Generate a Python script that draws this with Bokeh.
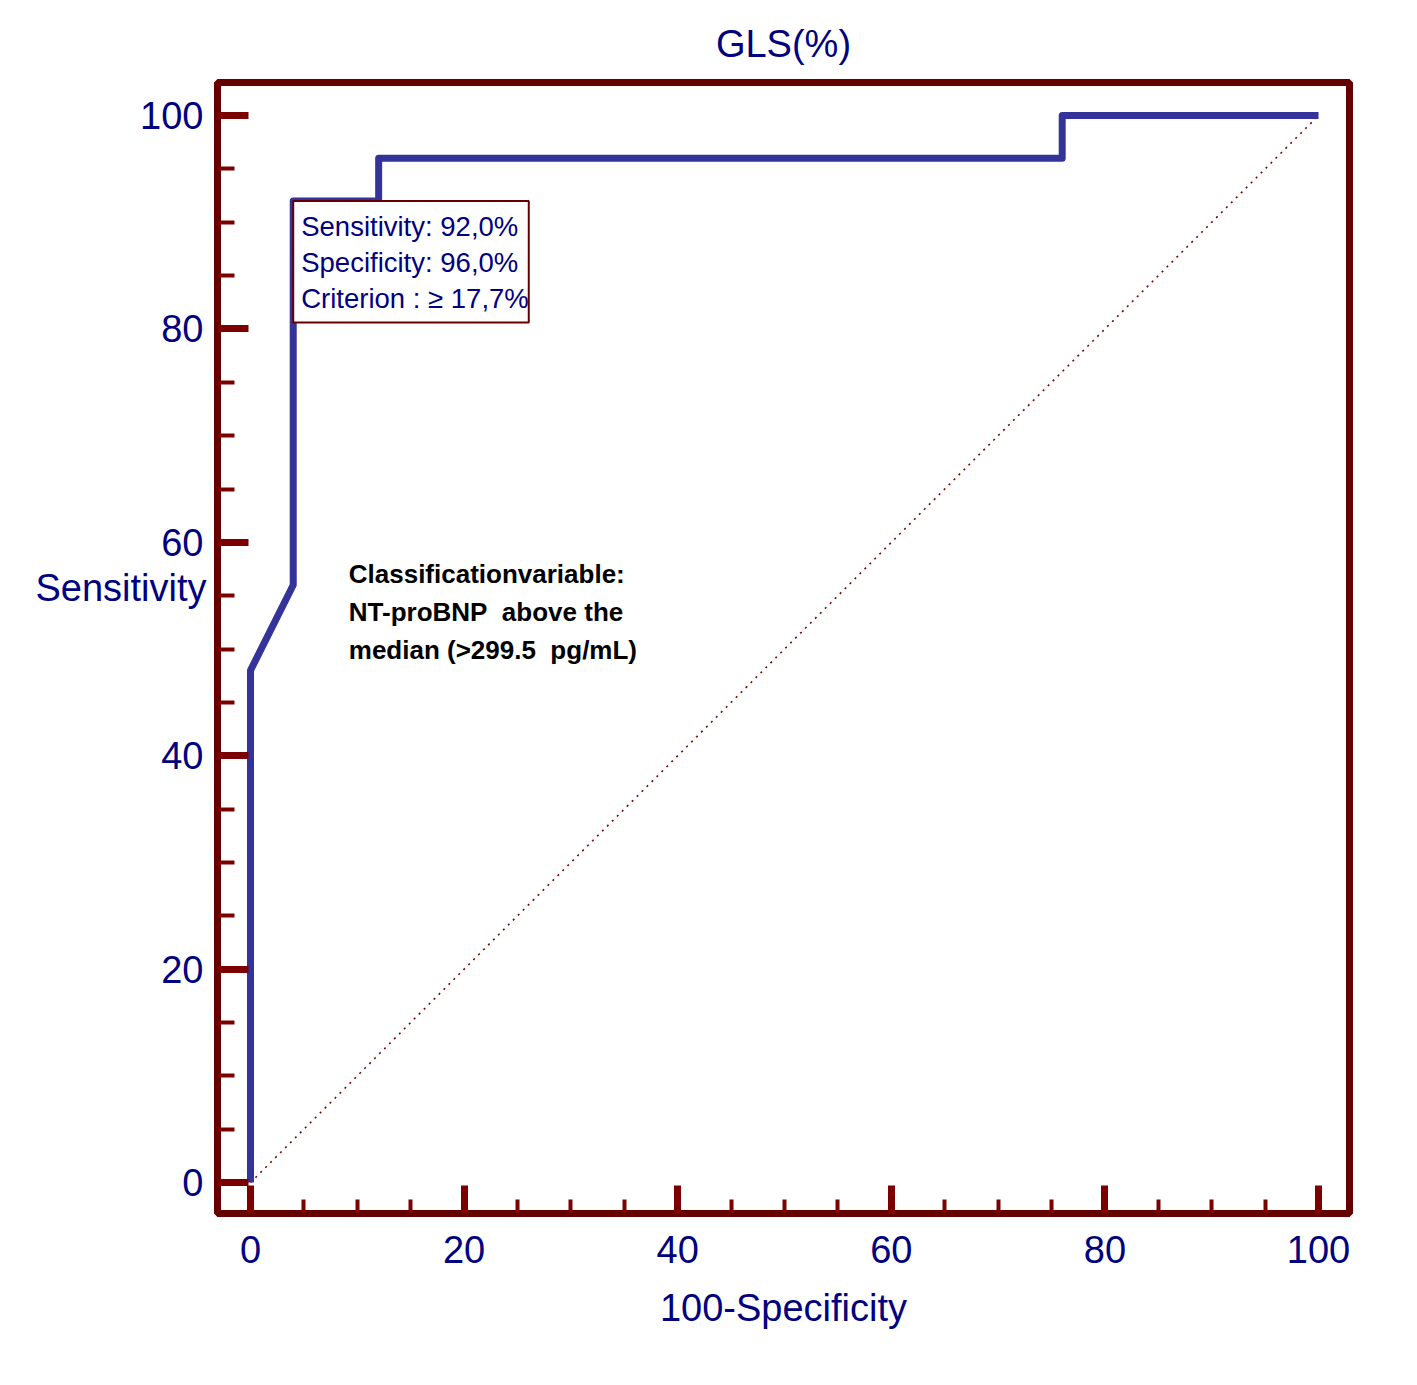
from bokeh.plotting import figure
from bokeh.models import Range1d, SingleIntervalTicker, FixedTicker, Label, LinearAxis
from bokeh.embed import file_html
from bokeh.resources import INLINE

# ROC curve data (100-Specificity, Sensitivity)
fpr = [0, 0, 4, 4, 12, 12, 76, 76, 100]
tpr = [0, 48, 56, 92, 92, 96, 96, 100, 100]
diag_x = [0, 100]
diag_y = [0, 100]
crit_x = 4
crit_y = 92
y_label = "Sensitivity"
y_label_at = 55.7
box_lines = ["Sensitivity: 92,0%", "Specificity: 96,0%", "Criterion : \u2265 17,7%"]
note_lines = ["Classificationvariable:", "NT-proBNP\u00a0 above the", "median (>299.5\u00a0 pg/mL)"]

FRAME = "#660000"
TICK = "#7d0000"
NAVY = "#000080"
ROC = "#333399"
FONT = "Liberation Sans"

p = figure(width=1417, height=1385, output_backend="svg", toolbar_location=None,
           x_range=Range1d(-3.09, 102.9), y_range=Range1d(-2.9, 103.1),
           min_border_left=217, min_border_right=68, min_border_top=82, min_border_bottom=172)
p.background_fill_color = "white"
p.border_fill_color = "white"
p.grid.visible = False
p.outline_line_color = FRAME
p.outline_line_width = 7

p.title.text = "GLS(%)"
p.title.align = "center"
p.title.text_font = FONT
p.title.text_font_size = "38px"
p.title.text_font_style = "normal"
p.title.text_color = NAVY
p.title.standoff = 36

for ax, tin, minin in ((p.xaxis[0], 28, 14), (p.yaxis[0], 31, 17)):
    ax.ticker = SingleIntervalTicker(interval=20, num_minor_ticks=4)
    ax.axis_line_color = FRAME
    ax.axis_line_width = 7
    ax.major_tick_line_color = TICK
    ax.major_tick_line_width = 7
    ax.major_tick_in = tin
    ax.major_tick_out = 0
    ax.minor_tick_line_color = TICK
    ax.minor_tick_line_width = 4
    ax.minor_tick_in = minin
    ax.minor_tick_out = 0
    ax.major_label_text_font = FONT
    ax.major_label_text_font_size = "38px"
    ax.major_label_text_color = NAVY
    ax.axis_label_text_font = FONT
    ax.axis_label_text_font_size = "38px"
    ax.axis_label_text_font_style = "normal"
    ax.axis_label_text_color = NAVY

p.xaxis.axis_label = "100-Specificity"
p.xaxis.major_label_standoff = 22
p.xaxis.axis_label_standoff = 21
p.yaxis.major_label_standoff = 14

# horizontal "Sensitivity" label, carried by a second left axis
sens_axis = LinearAxis(ticker=FixedTicker(ticks=[y_label_at]),
                       major_label_overrides={y_label_at: y_label},
                       axis_line_color=None, major_tick_line_color=None, minor_tick_line_color=None,
                       major_tick_in=0, major_tick_out=0,
                       major_label_standoff=-69, major_label_text_font=FONT,
                       major_label_text_font_size="38px", major_label_text_color=NAVY)
p.add_layout(sens_axis, "left")

# diagonal reference line
p.line(diag_x, diag_y, line_color="#7a0000", line_width=1.6, line_dash="2 5")
# ROC curve
p.line(fpr, tpr, line_color=ROC, line_width=7, line_join="round", line_cap="butt")

# criterion box
p.add_layout(Label(x=crit_x, y=crit_y, text="\n".join(box_lines), text_align="left",
                   text_baseline="top", text_font=FONT, text_font_size="27.5px", text_color=NAVY,
                   text_line_height=1.156, padding=dict(left=8, right=0, top=10, bottom=9),
                   border_line_color=FRAME, border_line_width=2,
                   background_fill_color="white"))

# classification note
p.add_layout(Label(x=9.2, y=58.4, text="\n".join(note_lines), text_align="left",
                   text_baseline="top", text_font=FONT, text_font_size="26px",
                   text_font_style="bold", text_color="black", text_line_height=1.255))

open("out.html", "w").write(file_html(p, INLINE))
